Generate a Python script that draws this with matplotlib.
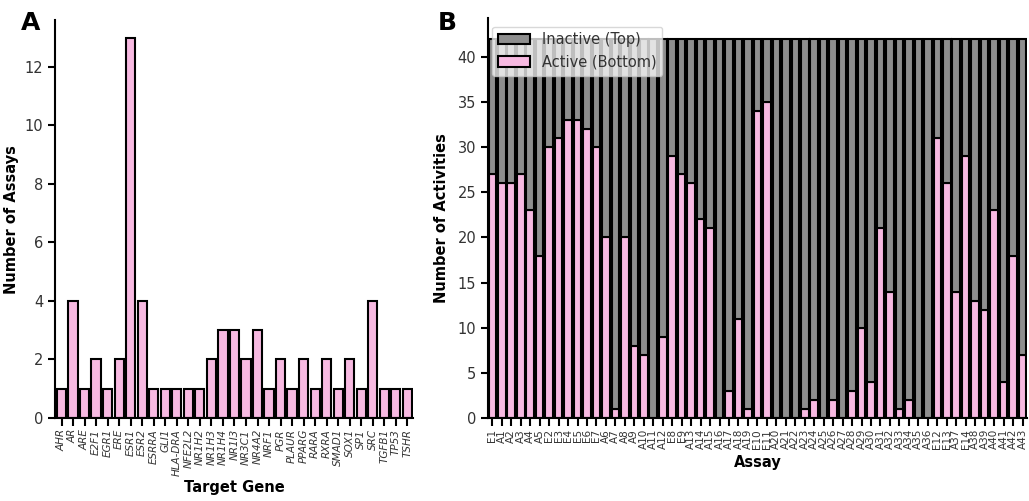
import matplotlib
matplotlib.use("Agg")
import matplotlib.pyplot as plt
import numpy as np

plt.rcParams['font.family'] = ['DejaVu Sans']

genes = ["AHR", "AR", "ARE", "E2F1", "EGR1", "ERE", "ESR1", "ESR2", "ESRRA", "GLI1",
         "HLA-DRA", "NFE2L2", "NR1H2", "NR1H3", "NR1H4", "NR1I3", "NR3C1", "NR4A2",
         "NRF1", "PGR", "PLAUR", "PPARG", "RARA", "RXRA", "SMAD1", "SOX1", "SP1",
         "SRC", "TGFB1", "TP53", "TSHR"]
assay_counts = [1, 4, 1, 2, 1, 2, 13, 4, 1, 1,
                1, 1, 1, 2, 3, 3, 2, 3,
                1, 2, 1, 2, 1, 2, 1, 2, 1,
                4, 1, 1, 1]

assays = ["E1", "A1", "A2", "A3", "A4", "A5", "E2", "E3", "E4", "E5", "E6", "E7",
          "A6", "A7", "A8", "A9", "A10", "A11", "A12", "E8", "E9", "A13", "A14",
          "A15", "A16", "A17", "A18", "A19", "E10", "E11", "A20", "A21", "A22",
          "A23", "A24", "A25", "A26", "A27", "A28", "A29", "A30", "A31", "A32",
          "A33", "A34", "A35", "A36", "E12", "E13", "A37", "E14", "A38", "A39",
          "A40", "A41", "A42", "A43"]
active = [27, 26, 26, 27, 23, 18, 30, 31, 33, 33, 32, 30,
          20, 1, 20, 8, 7, 0, 9, 29, 27, 26, 22,
          21, 0, 3, 11, 1, 34, 35, 0, 0, 0,
          1, 2, 0, 2, 0, 3, 10, 4, 21, 14,
          1, 2, 0, 0, 31, 26, 14, 29, 13, 12,
          23, 4, 18, 7]
total = 42
inactive = [total - a for a in active]

pink = "#f7b9e1"
gray = "#8e8e8e"

fig = plt.figure(figsize=(10.29, 5.01), dpi=100)

# Panel A
axA = fig.add_axes([0.0535, 0.1657, 0.348, 0.794])
xa = np.arange(len(genes))
axA.bar(xa, assay_counts, width=0.8, color=pink, edgecolor="black", linewidth=1.5)
axA.set_xlim(-0.56, len(genes) - 0.5)
axA.set_ylim(0, 13.6)
axA.set_yticks([0, 2, 4, 6, 8, 10, 12])
axA.set_xticks(xa)
axA.set_xticklabels(genes, rotation=90, fontsize=7.5, style="italic", color="#333333")
axA.tick_params(axis="y", labelsize=10.5, length=5, width=1.5, colors="black", labelcolor="#333333")
axA.tick_params(axis="x", length=6, width=1.5, pad=2)
for s in ["top", "right"]:
    axA.spines[s].set_visible(False)
for s in ["left", "bottom"]:
    axA.spines[s].set_linewidth(1.5)
axA.set_ylabel("Number of Assays", fontsize=10.5, fontweight="bold", labelpad=4)
axA.set_xlabel("Target Gene", fontsize=10.5, fontweight="bold", labelpad=3)

# Panel B
axB = fig.add_axes([0.4743, 0.1657, 0.524, 0.798])
xb = np.arange(len(assays))
axB.bar(xb, active, width=0.8, color=pink, edgecolor="black", linewidth=1.5,
        label="Active (Bottom)")
axB.bar(xb, inactive, bottom=active, width=0.8, color=gray, edgecolor="black",
        linewidth=1.5, label="Inactive (Top)")
axB.set_xlim(-0.45, len(assays) - 0.5)
axB.set_ylim(0, 44.3)
axB.set_yticks([0, 5, 10, 15, 20, 25, 30, 35, 40])
axB.set_xticks(xb)
axB.set_xticklabels(assays, rotation=90, fontsize=7.5, color="#333333")
axB.tick_params(axis="y", labelsize=10.5, length=5, width=1.5, colors="black", labelcolor="#333333")
axB.tick_params(axis="x", length=6, width=1.5, pad=2)
for s in ["top", "right"]:
    axB.spines[s].set_visible(False)
for s in ["left", "bottom"]:
    axB.spines[s].set_linewidth(1.5)
axB.set_ylabel("Number of Activities", fontsize=10.5, fontweight="bold", labelpad=6)
axB.set_xlabel("Assay", fontsize=10.5, fontweight="bold", labelpad=4)
h, l = axB.get_legend_handles_labels()
leg = axB.legend(h[::-1], l[::-1], loc="upper left", fontsize=10.5, framealpha=0.75,
                 fancybox=True, borderaxespad=0.3, handlelength=2.2,
                 bbox_to_anchor=(0.0, 0.99))
for t in leg.get_texts():
    t.set_color("#333333")

fig.text(0.02, 0.955, "A", fontsize=18, fontweight="bold", va="center")
fig.text(0.425, 0.955, "B", fontsize=18, fontweight="bold", va="center")

fig.savefig("out.png", dpi=100)
